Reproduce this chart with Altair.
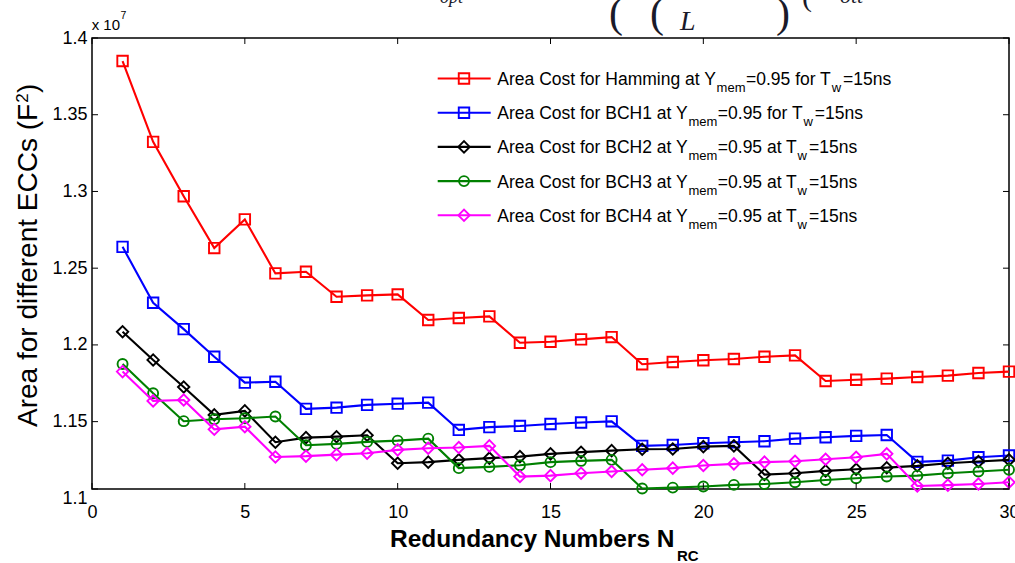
import altair as alt
import pandas as pd

# ---------------- data (values in units of 10^7 F^2) ----------------
x_vals = list(range(1, 31))
hamming = [1.3850, 1.3323, 1.2969, 1.2631, 1.2818, 1.2466, 1.2477, 1.2314, 1.2323, 1.2329,
           1.2162, 1.2175, 1.2186, 1.2014, 1.2021, 1.2036, 1.2051, 1.1874, 1.1889, 1.1900,
           1.1908, 1.1923, 1.1932, 1.1765, 1.1773, 1.1780, 1.1791, 1.1800, 1.1817, 1.1826]
bch1 = [1.2639, 1.2275, 1.2103, 1.1923, 1.1754, 1.1760, 1.1583, 1.1591, 1.1609, 1.1617,
        1.1624, 1.1446, 1.1464, 1.1472, 1.1485, 1.1494, 1.1502, 1.1342, 1.1348, 1.1359,
        1.1366, 1.1372, 1.1389, 1.1398, 1.1407, 1.1413, 1.1238, 1.1246, 1.1268, 1.1279]
bch2 = [1.2086, 1.1902, 1.1726, 1.1544, 1.1570, 1.1366, 1.1396, 1.1402, 1.1411, 1.1229,
        1.1236, 1.1251, 1.1262, 1.1272, 1.1290, 1.1301, 1.1311, 1.1320, 1.1322, 1.1337,
        1.1342, 1.1155, 1.1164, 1.1179, 1.1190, 1.1200, 1.1212, 1.1229, 1.1240, 1.1251]
bch3 = [1.1876, 1.1685, 1.1503, 1.1516, 1.1522, 1.1533, 1.1346, 1.1355, 1.1368, 1.1376,
        1.1389, 1.1197, 1.1205, 1.1216, 1.1236, 1.1244, 1.1251, 1.1064, 1.1070, 1.1077,
        1.1088, 1.1094, 1.1105, 1.1120, 1.1131, 1.1142, 1.1148, 1.1164, 1.1175, 1.1186]
bch4 = [1.1826, 1.1635, 1.1641, 1.1450, 1.1467, 1.1270, 1.1275, 1.1285, 1.1294, 1.1316,
        1.1327, 1.1331, 1.1342, 1.1142, 1.1148, 1.1164, 1.1175, 1.1186, 1.1197, 1.1214,
        1.1225, 1.1236, 1.1242, 1.1255, 1.1268, 1.1290, 1.1081, 1.1086, 1.1094, 1.1105]

series_values = [hamming, bch1, bch2, bch3, bch4]
series_colors = ["#ff0000", "#0000ff", "#000000", "#008000", "#ff00ff"]
series_shapes = ["square", "square", "diamond", "circle", "diamond"]
series_sizes = [110, 110, 130, 100, 130]
legend_main = ["Area Cost for Hamming at Y", "Area Cost for BCH1 at Y", "Area Cost for BCH2 at Y",
               "Area Cost for BCH3 at Y", "Area Cost for BCH4 at Y"]
legend_mid = ["=0.95 for T", "=0.95 for T", "=0.95 at T", "=0.95 at T", "=0.95 at T"]

x_ticks = [0, 5, 10, 15, 20, 25, 30]
Y_BOTTOM = 1.1061
y_ticks = [Y_BOTTOM, 1.15, 1.2, 1.25, 1.3, 1.35, 1.4]

# ---------------- layout ----------------
W, H = 917, 451
SANS = "Liberation Sans"
SERIF = "Liberation Serif"

ARIAL = {' ': 278, 'A': 667, 'B': 667, 'C': 722, 'E': 667, 'F': 611, 'H': 722, 'L': 556,
         'N': 722, 'R': 722, 'T': 611, 'Y': 667, 'a': 556, 'b': 556, 'c': 500, 'd': 556,
         'e': 556, 'f': 278, 'g': 556, 'i': 222, 'l': 222, 'm': 833, 'n': 556, 'o': 556,
         'r': 333, 's': 500, 't': 278, 'u': 556, 'w': 722, 'y': 500, '.': 278, '=': 584,
         '(': 333, ')': 333}


def tw(s, size):
    return sum(ARIAL.get(c, 556) for c in s) / 1000.0 * size


xs = alt.Scale(domain=[0, 30], nice=False, zero=False)
ys = alt.Scale(domain=[Y_BOTTOM, 1.4], nice=False, zero=False)
one = pd.DataFrame({"a": [0]})

XAX = alt.Axis(values=x_ticks, title=None, grid=False, domain=False, ticks=False, tickSize=0,
               labelFontSize=18, labelFont=SANS, labelColor="black", labelPadding=14,
               labelFlush=False, format="d")
YAX = alt.Axis(values=y_ticks, title=None, grid=False, domain=False, ticks=False, tickSize=0,
               labelFontSize=18, labelFont=SANS, labelColor="black", labelPadding=5,
               labelExpr="datum.value < 1.12 ? '1.1' : format(datum.value, '.2~f')",
               labelOffset={"condition": {"test": "datum.value < 1.12", "value": 9}, "value": 0})


def txt(s, x, y, size, font=SANS, angle=0, color="black", **kw):
    return alt.Chart(one).mark_text(text=s, fontSize=size, font=font, align="left",
                                    baseline="alphabetic", angle=angle, color=color, **kw
                                    ).encode(x=alt.value(x), y=alt.value(y))


layers = []

# series
for vals, col, shp, sz in zip(series_values, series_colors, series_shapes, series_sizes):
    df = pd.DataFrame({"x": x_vals, "y": vals})
    enc = dict(x=alt.X("x:Q", scale=xs, axis=XAX), y=alt.Y("y:Q", scale=ys, axis=YAX))
    layers.append(alt.Chart(df).mark_line(color=col, strokeWidth=2.1).encode(**enc))
    layers.append(alt.Chart(df).mark_point(shape=shp, size=sz, filled=False, color=col,
                                           strokeWidth=1.9, opacity=1).encode(**enc))

# inward ticks (box on)
xt = pd.DataFrame({"x": x_ticks})
yt = pd.DataFrame({"y": y_ticks})
for y0, y1 in [(H, H - 6), (0, 6)]:
    layers.append(alt.Chart(xt).mark_rule(color="black", strokeWidth=1).encode(
        x=alt.X("x:Q", scale=xs, axis=XAX), y=alt.value(y0), y2=alt.value(y1)))
for x0, x1 in [(0, 6), (W, W - 6)]:
    layers.append(alt.Chart(yt).mark_rule(color="black", strokeWidth=1).encode(
        y=alt.Y("y:Q", scale=ys, axis=YAX), x=alt.value(x0), x2=alt.value(x1)))

# legend (manual, for sub-scripts)
LF, SF = 17.5, 13
tx0 = 405.3
for i in range(5):
    base = 47 + i * 34.2
    cy = base - 6.5
    col = series_colors[i]
    layers.append(alt.Chart(one).mark_rule(color=col, strokeWidth=2.1).encode(
        x=alt.value(345.7), x2=alt.value(398.7), y=alt.value(cy)))
    layers.append(alt.Chart(one).mark_point(shape=series_shapes[i], size=series_sizes[i], filled=False,
                                            color=col, strokeWidth=1.9, opacity=1).encode(
        x=alt.value(372), y=alt.value(cy)))
    x = tx0
    layers.append(txt(legend_main[i], x, base, LF))
    x += tw(legend_main[i], LF) + 0.5
    layers.append(txt("mem", x, base + 7, SF))
    x += tw("mem", SF) + 0.5
    layers.append(txt(legend_mid[i], x, base, LF))
    x += tw(legend_mid[i], LF) + 0.5
    layers.append(txt("w", x, base + 7, SF))
    x += tw("w", SF) + 2
    layers.append(txt("=15ns", x, base, LF))

# x-axis title with subscript
layers.append(txt("Redundancy Numbers N", 298, 508.7, 24.5, fontWeight="bold"))
layers.append(txt("RC", 585, 522.5, 15, fontWeight="bold"))

# y-axis title with superscript (rotated)
YT = 28
ystart = 389
p1 = "Area for different ECCs (F"
layers.append(txt(p1, -55, ystart, YT, angle=270))
yy = ystart - tw(p1, YT) - 0.5
layers.append(txt("2", -64, yy, 17, angle=270))
yy -= tw("2", 17) + 0.5
layers.append(txt(")", -55, yy, YT, angle=270))

# exponent label
layers.append(txt("x 10", -0.3, -8, 15))
layers.append(txt("7", 28.5, -19.5, 10.5))

# cropped equation fragments at the top of the picture
eq = "#1a1a2a"
for s, xx, yy2, fs, st in [("opt", 348, -35, 18, "italic"),
                           ("(", 517, -11, 42, "normal"), ("(", 558, -11, 42, "normal"),
                           ("L", 588, -8, 28, "italic"), ("+", 643, -36, 22, "normal"),
                           (")", 684, -11, 42, "normal"), ("(", 710, -32, 30, "normal"),
                           ("ott", 748, -35, 22, "italic"), ("+", 803, -36, 22, "normal")]:
    layers.append(txt(s, xx, yy2, fs, font=SERIF, color=eq, fontStyle=st))

chart = alt.layer(*layers).properties(
    width=W, height=H,
    autosize=alt.AutoSizeParams(type="none"),
    padding={"left": 92, "top": 38, "right": 6, "bottom": 74},
    background="white",
).configure_view(stroke="black", strokeWidth=1.5)

chart.save("out.html", embed_options={"renderer": "svg", "actions": False})
